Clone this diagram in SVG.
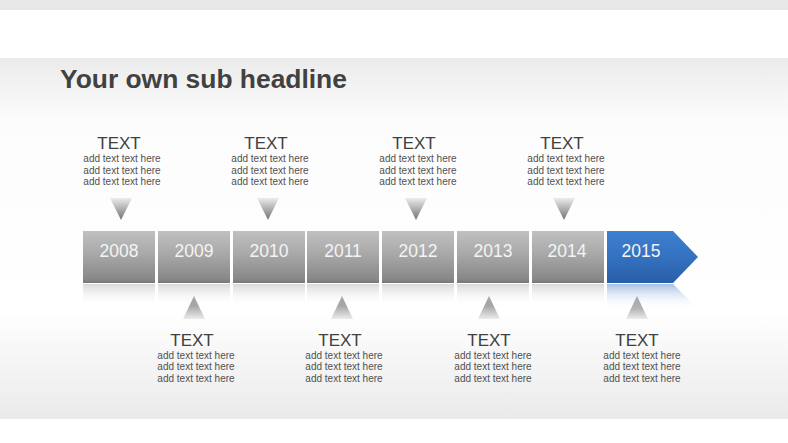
<svg xmlns="http://www.w3.org/2000/svg" width="788" height="443" viewBox="0 0 788 443">
<defs>
<linearGradient id="bg" x1="0" y1="0" x2="0" y2="1">
<stop offset="0" stop-color="#ebebeb"/>
<stop offset="0.17" stop-color="#fcfcfc"/>
<stop offset="0.7" stop-color="#ffffff"/>
<stop offset="1" stop-color="#eaeaea"/>
</linearGradient>
<linearGradient id="gbox" x1="0" y1="0" x2="0" y2="1">
<stop offset="0" stop-color="#c0c0c0"/>
<stop offset="0.45" stop-color="#a8a8a8"/>
<stop offset="0.92" stop-color="#888888"/>
<stop offset="1" stop-color="#787878"/>
</linearGradient>
<linearGradient id="bbox" x1="0" y1="0" x2="0" y2="1">
<stop offset="0" stop-color="#3f7fd0"/>
<stop offset="0.5" stop-color="#3471c0"/>
<stop offset="1" stop-color="#2a5ea8"/>
</linearGradient>
<linearGradient id="grefl" x1="0" y1="0" x2="0" y2="1">
<stop offset="0" stop-color="#d8d8d8"/>
<stop offset="1" stop-color="#ffffff" stop-opacity="0"/>
</linearGradient>
<linearGradient id="brefl" x1="0" y1="0" x2="0" y2="1">
<stop offset="0" stop-color="#a6bfe2"/>
<stop offset="1" stop-color="#ffffff" stop-opacity="0"/>
</linearGradient>
<linearGradient id="tdown" x1="0" y1="0" x2="0" y2="1">
<stop offset="0" stop-color="#ececec"/>
<stop offset="1" stop-color="#727272"/>
</linearGradient>
<linearGradient id="tup" x1="0" y1="0" x2="0" y2="1">
<stop offset="0" stop-color="#727272"/>
<stop offset="1" stop-color="#ececec"/>
</linearGradient>
</defs>
<style>
.head{font-family:"Liberation Sans",Arial,sans-serif;font-weight:bold;font-size:26.4px;fill:#414141}
.t{font-family:"Liberation Sans",Arial,sans-serif;font-size:17px;fill:#404040;text-anchor:middle}
.s{font-family:"Liberation Sans",Arial,sans-serif;font-size:10px;fill:#505050;text-anchor:middle}
.yr{font-family:"Liberation Sans",Arial,sans-serif;font-size:17.5px;fill:#f4f4f4;text-anchor:middle}
.box{fill:url(#gbox)}
.refl{fill:url(#grefl)}
.td{fill:url(#tdown)}
.tu{fill:url(#tup)}
</style>
<rect x="0" y="0" width="788" height="443" fill="#ffffff"/>
<rect x="0" y="0" width="788" height="10" fill="#e7e7e7"/>
<rect x="0" y="58" width="788" height="361" fill="url(#bg)"/>
<text class="head" x="60" y="88">Your own sub headline</text>

<g id="connectors">
<polygon class="td" points="110,198 132,198 121,220"/>
<polygon class="td" points="257,198 279,198 268,220"/>
<polygon class="td" points="405,198 427,198 416,220"/>
<polygon class="td" points="553,198 575,198 564,220"/>
<polygon class="tu" points="194,296 183,319 205,319"/>
<polygon class="tu" points="342,296 331,319 353,319"/>
<polygon class="tu" points="489,296 478,319 500,319"/>
<polygon class="tu" points="637,296 626,319 648,319"/>
</g>

<g id="y2008"><rect class="box" x="83" y="231" width="72" height="52"/><rect class="refl" x="83" y="284" width="72" height="22"/><text class="yr" x="119" y="257">2008</text></g>
<g id="y2009"><rect class="box" x="158" y="231" width="72" height="52"/><rect class="refl" x="158" y="284" width="72" height="22"/><text class="yr" x="194" y="257">2009</text></g>
<g id="y2010"><rect class="box" x="233" y="231" width="72" height="52"/><rect class="refl" x="233" y="284" width="72" height="22"/><text class="yr" x="269" y="257">2010</text></g>
<g id="y2011"><rect class="box" x="307" y="231" width="72" height="52"/><rect class="refl" x="307" y="284" width="72" height="22"/><text class="yr" x="343" y="257">2011</text></g>
<g id="y2012"><rect class="box" x="382" y="231" width="72" height="52"/><rect class="refl" x="382" y="284" width="72" height="22"/><text class="yr" x="418" y="257">2012</text></g>
<g id="y2013"><rect class="box" x="457" y="231" width="72" height="52"/><rect class="refl" x="457" y="284" width="72" height="22"/><text class="yr" x="493" y="257">2013</text></g>
<g id="y2014"><rect class="box" x="532" y="231" width="72" height="52"/><rect class="refl" x="532" y="284" width="72" height="22"/><text class="yr" x="567" y="257">2014</text></g>
<g id="y2015"><polygon fill="url(#bbox)" points="607,231 673,231 698,257 673,283 607,283"/><polygon fill="url(#brefl)" points="607,284 673,284 698,309 607,309"/><text class="yr" x="641" y="257">2015</text></g>

<g id="label1"><text class="t" x="119" y="149">TEXT</text><text class="s" x="122" y="162">add text text here</text><text class="s" x="122" y="174">add text text here</text><text class="s" x="122" y="185">add text text here</text></g>
<g id="label3"><text class="t" x="266" y="149">TEXT</text><text class="s" x="270" y="162">add text text here</text><text class="s" x="270" y="174">add text text here</text><text class="s" x="270" y="185">add text text here</text></g>
<g id="label5"><text class="t" x="414" y="149">TEXT</text><text class="s" x="418" y="162">add text text here</text><text class="s" x="418" y="174">add text text here</text><text class="s" x="418" y="185">add text text here</text></g>
<g id="label7"><text class="t" x="562" y="149">TEXT</text><text class="s" x="566" y="162">add text text here</text><text class="s" x="566" y="174">add text text here</text><text class="s" x="566" y="185">add text text here</text></g>
<g id="label2"><text class="t" x="192" y="346">TEXT</text><text class="s" x="196" y="359">add text text here</text><text class="s" x="196" y="370">add text text here</text><text class="s" x="196" y="382">add text text here</text></g>
<g id="label4"><text class="t" x="340" y="346">TEXT</text><text class="s" x="344" y="359">add text text here</text><text class="s" x="344" y="370">add text text here</text><text class="s" x="344" y="382">add text text here</text></g>
<g id="label6"><text class="t" x="489" y="346">TEXT</text><text class="s" x="493" y="359">add text text here</text><text class="s" x="493" y="370">add text text here</text><text class="s" x="493" y="382">add text text here</text></g>
<g id="label8"><text class="t" x="637" y="346">TEXT</text><text class="s" x="642" y="359">add text text here</text><text class="s" x="642" y="370">add text text here</text><text class="s" x="642" y="382">add text text here</text></g>
</svg>
